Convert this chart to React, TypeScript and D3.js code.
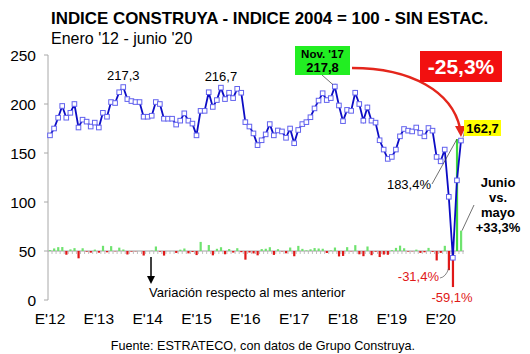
import * as d3 from "d3";

// ── Data — Índice Construya (2004 = 100, desestacionalizado), ene-12 … jun-20 ──
const INDEX: number[] = [
  168, 175, 186, 198, 186, 191, 200, 176, 184, 182, 177, 181,
  176, 191, 187, 202, 201, 212, 217.3, 205, 203, 202, 202, 187,
  187, 188, 202, 200, 185, 185, 185, 179, 183, 190.5, 183, 180,
  168, 193, 193, 212, 197, 204, 216.7, 205, 211.5, 206, 215.5, 211.5,
  181.5, 177, 170, 158, 163, 169, 179.5, 168, 173, 172, 165.5, 175,
  160, 173.5, 179.5, 181.5, 186.5, 195.5, 203.5, 211, 204, 206, 217.8, 198.5,
  182.5, 194, 193, 211.5, 200, 183, 196.5, 183, 181, 163, 153.5, 144,
  146, 153.5, 167, 174.5, 172.8, 172, 176, 170.5, 167, 175.5, 172.8, 146,
  141.5, 153.5, 105.3, 43.1, 122.1, 162.7,
];

// Variación respecto al mes anterior (%)
const MOM_PCT: number[] = [
  1.5, 4.2, 6.3, 6.5, -6.1, 2.7, 4.7, -12.0, 4.5, -1.1, -2.7, 2.3,
  -2.8, 8.5, -2.1, 8.0, -0.5, 5.5, 2.5, -5.7, -1.0, -0.5, 0, -7.4,
  0, 0.5, 7.4, -1.0, -7.5, 0, 0, -3.2, 2.2, 4.1, -3.9, -1.6,
  -6.7, 14.9, 0, 9.8, -7.1, 3.6, 6.2, -5.4, 3.2, -2.6, 4.6, -1.9,
  -14.2, -2.5, -4.0, -7.1, 3.2, 3.7, 6.2, -6.4, 3.0, -0.6, -3.8, 5.7,
  -8.6, 8.4, 3.5, 1.1, 2.8, 4.8, 4.1, 3.7, -3.3, 1.0, 5.7, -8.9,
  -8.1, 6.3, -0.5, 9.6, -5.4, -8.5, 7.4, -6.9, -1.1, -9.9, -5.8, -6.2,
  1.4, 5.1, 8.8, 4.5, -1.0, -0.5, 2.3, -3.1, -2.1, 5.1, -1.5, -15.5,
  -3.1, 8.5, -31.4, -59.1, 183.4, 33.3,
];

const YEAR_LABELS = ["E'12", "E'13", "E'14", "E'15", "E'16", "E'17", "E'18", "E'19", "E'20"];
const Y_TICKS = [0, 50, 100, 150, 200, 250];
const BAR_BASE = 50;

// ── Geometry ──────────────────────────────────────────────────
const W = 530;
const H = 354;
const FONT = "'Liberation Sans', Arial, Helvetica, sans-serif";
const LINE = "#0c0cc4";
const MARK = "#6262ee";
const GREEN = "#6fe36f";
const RED = "#e01818";

export default function App() {
  const x = d3.scaleLinear().domain([0, INDEX.length - 1]).range([50, 461]);
  const y = d3.scaleLinear().domain([0, 250]).range([300, 55]);
  // bars: % change drawn around the 50 line
  const yb = d3.scaleLinear().domain([-100, 200]).range([y(BAR_BASE) + 61, y(BAR_BASE) - 122]);

  const line = d3
    .line<number>()
    .x((_, i) => x(i))
    .y((d) => y(d));

  const base = y(BAR_BASE);
  const last = INDEX.length - 1;
  const iNov17 = 70;

  return (
    <svg
      width={W}
      height={H}
      style={{ position: "absolute", left: 0, top: 0, background: "#fff" }}
      fontFamily={FONT}
    >
      {/* Title */}
      <text x={51} y={24} fontSize={16.9} fontWeight={700} fill="#000">
        INDICE CONSTRUYA - INDICE 2004 = 100 - SIN ESTAC.
      </text>
      <text x={51} y={44} fontSize={16} fill="#000">
        Enero '12 - junio '20
      </text>

      {/* Y axis */}
      <line x1={48} x2={48} y1={y(250)} y2={y(0)} stroke="#a8a8a8" />
      {Y_TICKS.map((t) => (
        <g key={t}>
          <line x1={44} x2={48} y1={y(t)} y2={y(t)} stroke="#a8a8a8" />
          <text x={36} y={y(t) + 5.5} fontSize={15.5} textAnchor="end" fill="#000">
            {t}
          </text>
        </g>
      ))}

      {/* Bar baseline with monthly ticks */}
      <line x1={48} x2={x(last) + 3} y1={base} y2={base} stroke="#a0a0a0" />
      {INDEX.map((_, i) => (
        <line key={`bt-${i}`} x1={x(i) + 2} x2={x(i) + 2} y1={base} y2={base + 3} stroke="#b0b0b0" strokeWidth={0.8} />
      ))}

      {/* Monthly variation bars */}
      {MOM_PCT.map((p, i) => (
        <rect
          key={`b-${i}`}
          x={x(i) - 1}
          width={2.2}
          y={Math.min(yb(p), yb(0))}
          height={Math.abs(yb(p) - yb(0))}
          fill={p >= 0 ? (p > 100 ? "#3fd83f" : GREEN) : RED}
        />
      ))}

      {/* Series */}
      <path d={line(INDEX) ?? ""} fill="none" stroke={LINE} strokeWidth={1.8} />
      {INDEX.map((v, i) => (
        <rect
          key={`m-${i}`}
          x={x(i) - 2.3}
          y={y(v) - 2.3}
          width={4.6}
          height={4.6}
          fill="#fff"
          stroke={MARK}
          strokeWidth={1}
        />
      ))}

      {/* Peak labels */}
      <text x={x(18)} y={y(217.3) - 7} fontSize={13} textAnchor="middle" fill="#000">217,3</text>
      <text x={x(42)} y={y(216.7) - 7} fontSize={13} textAnchor="middle" fill="#000">216,7</text>

      {/* Nov '17 box */}
      <line x1={322} y1={75} x2={x(iNov17) - 2} y2={y(INDEX[iNov17]) - 2} stroke="#333" strokeWidth={0.7} />
      <rect x={295} y={46} width={55} height={29} fill="#22ee22" />
      <text x={322.5} y={58} fontSize={11.5} fontWeight={700} textAnchor="middle" fill="#000">Nov. '17</text>
      <text x={322.5} y={72} fontSize={13} fontWeight={700} textAnchor="middle" fill="#000">217,8</text>

      {/* Curved arrow Nov '17 → jun '20 */}
      <path d="M352,68 C412,68 452,92 460,128" fill="none" stroke="#e4261c" strokeWidth={2.5} />
      <path d="M455,126 L466,126 L461,137 Z" fill="#e4261c" />

      {/* -25,3% box */}
      <rect x={420} y={51} width={82} height={31} fill="#f21010" />
      <text x={461} y={74} fontSize={21} fontWeight={700} textAnchor="middle" fill="#fff">-25,3%</text>

      {/* Last value */}
      <line x1={x(last) + 2} y1={y(INDEX[last]) - 3} x2={465} y2={129} stroke="#555" strokeWidth={0.7} />
      <rect x={464} y={120} width={37} height={16} fill="#ffff00" />
      <text x={482.5} y={132.5} fontSize={13} fontWeight={700} textAnchor="middle" fill="#000">162,7</text>

      {/* Covid annotations */}
      <line x1={432} y1={184} x2={x(100)} y2={yb(183.4)} stroke="#333" strokeWidth={0.7} />
      <text x={431} y={189} fontSize={13} textAnchor="end" fill="#000">183,4%</text>

      <path d={`M440,278 Q446,277 ${x(98)},${yb(-31.4) - 2}`} fill="none" stroke="#555" strokeWidth={0.7} />
      <text x={439} y={281} fontSize={13} textAnchor="end" fill={RED}>-31,4%</text>
      <text x={452} y={302} fontSize={13} textAnchor="middle" fill={RED}>-59,1%</text>

      <line x1={474} y1={205} x2={x(last) + 1} y2={yb(33.3)} stroke="#333" strokeWidth={0.7} />
      {["Junio", "vs.", "mayo", "+33,3%"].map((s, i) => (
        <text key={s} x={498} y={187 + i * 15} fontSize={13} fontWeight={700} textAnchor="middle" fill="#000">
          {s}
        </text>
      ))}

      {/* Note */}
      <line x1={151} y1={257} x2={151} y2={278} stroke="#000" strokeWidth={1.5} />
      <path d="M147,276 L155,276 L151,284 Z" fill="#000" />
      <text x={149} y={297} fontSize={13} fill="#000">Variación respecto al mes anterior</text>

      {/* X labels */}
      {YEAR_LABELS.map((lab, k) => (
        <text key={lab} x={x(k * 12)} y={324} fontSize={15.5} textAnchor="middle" fill="#000">
          {lab}
        </text>
      ))}

      {/* Source */}
      <text x={263} y={350} fontSize={12.6} textAnchor="middle" fill="#000">
        Fuente: ESTRATECO, con datos de Grupo Construya.
      </text>
    </svg>
  );
}
